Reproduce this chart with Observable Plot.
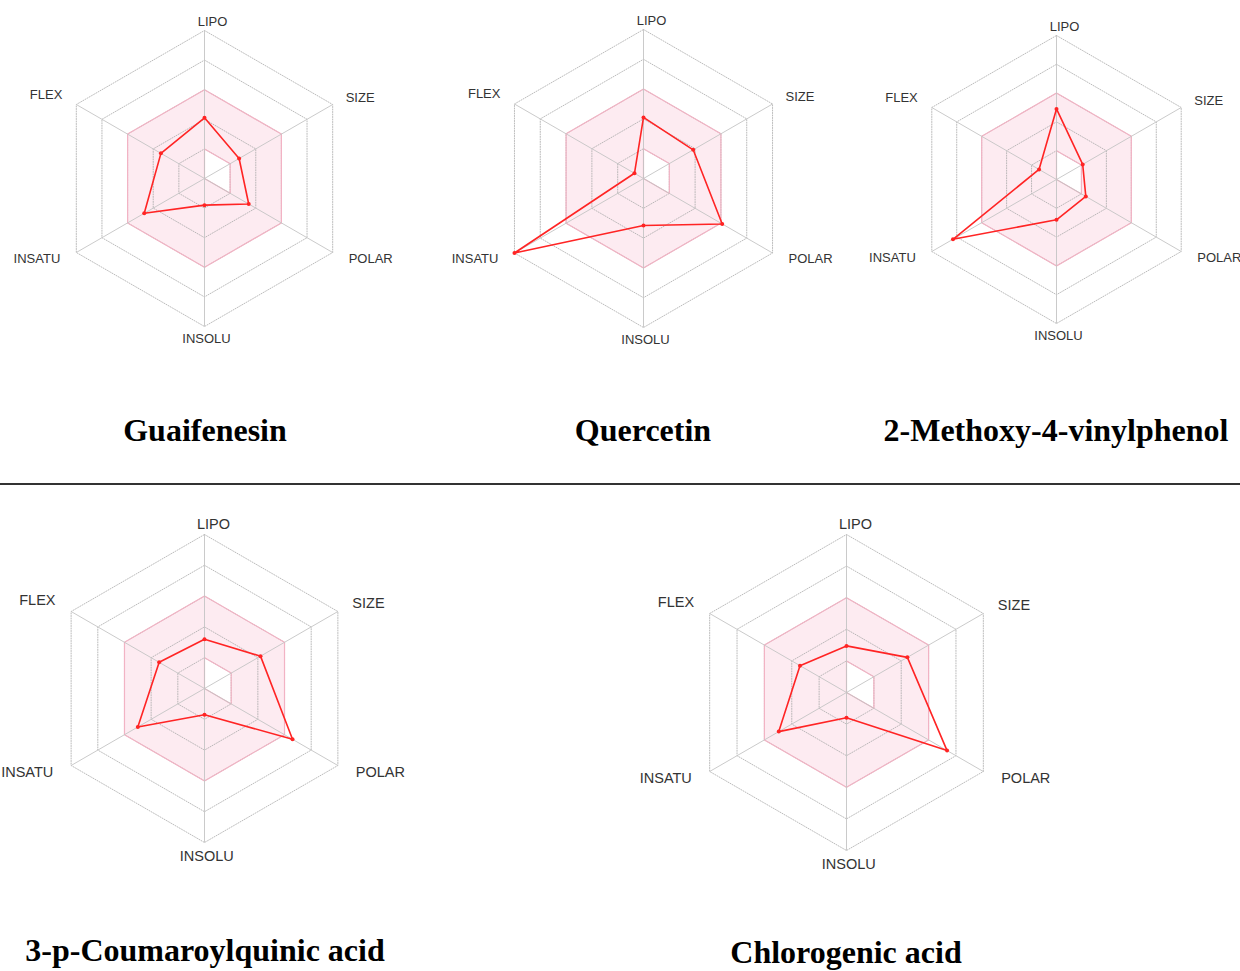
<!DOCTYPE html>
<html><head><meta charset="utf-8">
<script src="https://cdn.jsdelivr.net/npm/d3@7"></script>
<script src="https://cdn.jsdelivr.net/npm/@observablehq/plot@0.6"></script>
<style>
html,body{margin:0;padding:0;background:#fff;overflow:hidden;}
#page{position:relative;width:1240px;height:971px;overflow:hidden;}
.panel{position:absolute;}
.panel svg{max-width:none !important;}
.title{position:absolute;font-family:"Liberation Serif","Times New Roman",serif;font-weight:bold;font-size:32px;line-height:32px;white-space:nowrap;transform:translateX(-50%);color:#000;}
.rule{position:absolute;left:0;width:1240px;height:2px;background:#333;top:483px;}
</style></head><body><div id="page"><div class="rule"></div></div>
<script>
// ---- data ----
const axisNames = ["LIPO", "SIZE", "POLAR", "INSOLU", "INSATU", "FLEX"];
const compounds = ["Guaifenesin", "Quercetin", "2-Methoxy-4-vinylphenol", "3-p-Coumaroylquinic acid", "Chlorogenic acid"];
// values as fraction of the outer ring (0 = centre, 1 = outer hexagon)
const guaifenesin   = [0.41, 0.27, 0.345, 0.18, 0.47, 0.34];
const quercetin     = [0.41, 0.385, 0.61, 0.315, 1.0, 0.07];
const methoxyVinyl  = [0.49, 0.21, 0.235, 0.28, 0.83, 0.14];
const coumaroylquin = [0.32, 0.42, 0.66, 0.17, 0.50, 0.34];
const chlorogenic   = [0.295, 0.445, 0.735, 0.16, 0.495, 0.34];
const seriesValues = [guaifenesin, quercetin, methoxyVinyl, coumaroylquin, chlorogenic];
const ringLevels = [0.2, 0.4, 0.6, 0.8, 1.0];
const optimalUpper = [0.6, 0.6, 0.6, 0.6, 0.6, 0.6];
const optimalLower = [0.2, 0.2, 0.2, 0, 0, 0];

// ---- layout ----
const layout = [
  {cx: 204, cy: 178, R: 148, tx: 205, ty: 414, fs: 13},
  {cx: 643, cy: 178, R: 149, tx: 643, ty: 414, fs: 13},
  {cx: 1056, cy: 178.5, R: 144, tx: 1056, ty: 414, fs: 13},
  {cx: 204, cy: 688, R: 154, tx: 205, ty: 934, fs: 14.5},
  {cx: 846, cy: 692, R: 158, tx: 846, ty: 936, fs: 14.5}
];
const labelStyle = {
  LIPO:   {textAnchor: "middle", dx: 8,   dy: -9},
  SIZE:   {textAnchor: "start",  dx: 13,  dy: -7},
  POLAR:  {textAnchor: "start",  dx: 16,  dy: 6},
  INSOLU: {textAnchor: "middle", dx: 2,   dy: 12},
  INSATU: {textAnchor: "end",    dx: -16, dy: 6},
  FLEX:   {textAnchor: "end",    dx: -14, dy: -10}
};
const W = 440, H = 380;
const angle = i => (90 - 60 * i) * Math.PI / 180;
const toPts = vals => vals.map((v, i) => ({axis: axisNames[i], x: v * Math.cos(angle(i)), y: v * Math.sin(angle(i))}));

const page = document.getElementById("page");
compounds.forEach((name, k) => {
  const L = layout[k];
  const s = L.fs / 13;
  const pts = toPts(seriesValues[k]);
  const rings = ringLevels.flatMap(l => toPts(axisNames.map(() => l)).map(p => ({...p, level: l})));
  const vertices = toPts(axisNames.map(() => 1));
  const upper = toPts(optimalUpper);
  const lower = toPts(optimalLower);
  const labelMarks = axisNames.map(a => Plot.text(vertices.filter(d => d.axis === a), {
    x: "x", y: "y", text: "axis", textAnchor: labelStyle[a].textAnchor,
    dx: labelStyle[a].dx * s, dy: labelStyle[a].dy * s, fill: "#333"
  }));
  const svg = Plot.plot({
    width: W, height: H, margin: 0,
    x: {domain: [-W / 2 / L.R, W / 2 / L.R], range: [0, W], axis: null},
    y: {domain: [-H / 2 / L.R, H / 2 / L.R], range: [H, 0], axis: null},
    style: {fontFamily: "'Liberation Sans', Arial, sans-serif", fontSize: L.fs + "px", background: "transparent", overflow: "visible", maxWidth: "none"},
    marks: [
      Plot.line(upper, {x: "x", y: "y", curve: "linear-closed", fill: "#fdebf1", stroke: "none"}),
      Plot.line(lower, {x: "x", y: "y", curve: "linear-closed", fill: "#ffffff", stroke: "none"}),
      Plot.line(rings, {x: "x", y: "y", z: "level", curve: "linear-closed", stroke: "#aaaaaa", strokeWidth: 0.8, strokeDasharray: "1,1.5"}),
      Plot.line(upper, {x: "x", y: "y", curve: "linear-closed", fill: "none", stroke: "#f2b3c4", strokeWidth: 1.2}),
      Plot.line(lower, {x: "x", y: "y", curve: "linear-closed", fill: "none", stroke: "#f2b3c4", strokeWidth: 1.2}),
      Plot.link(vertices, {x1: () => 0, y1: () => 0, x2: "x", y2: "y", stroke: "#c4c4c4", strokeWidth: 0.9}),
      Plot.line(pts, {x: "x", y: "y", curve: "linear-closed", stroke: "#ff2424", strokeWidth: 1.6}),
      Plot.dot(pts, {x: "x", y: "y", r: 2, fill: "#ff2424", stroke: "none"}),
      ...labelMarks
    ]
  });
  const wrap = document.createElement("div");
  wrap.className = "panel";
  wrap.style.left = (L.cx - W / 2) + "px";
  wrap.style.top = (L.cy - H / 2) + "px";
  wrap.style.width = W + "px";
  wrap.style.height = H + "px";
  wrap.appendChild(svg);
  page.appendChild(wrap);
  const t = document.createElement("div");
  t.className = "title";
  t.style.left = L.tx + "px";
  t.style.top = L.ty + "px";
  t.textContent = name;
  page.appendChild(t);
});
</script></body></html>
